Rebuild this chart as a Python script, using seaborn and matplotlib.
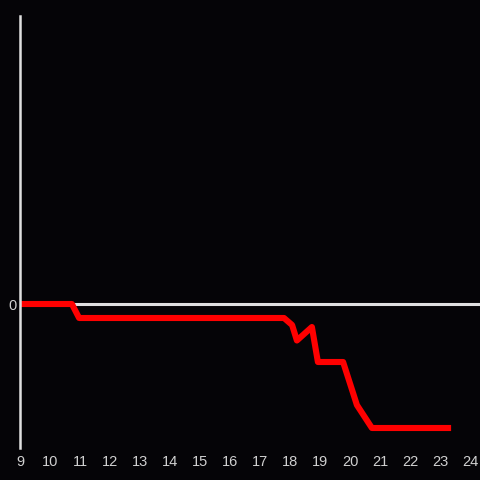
import numpy as np
import pandas as pd
import seaborn as sns
import matplotlib
matplotlib.use("Agg")
import matplotlib.pyplot as plt

# Hour of day and value
hours = [9.0, 10.73, 10.97, 17.8, 18.07, 18.23, 18.73, 18.93, 19.77, 20.07, 20.23, 20.73, 23.37]
values = [0, 0, -1.4, -1.4, -2.1, -3.65, -2.3, -5.8, -5.8, -8.6, -10.1, -12.4, -12.4]
xticks = list(range(9, 25))
yticks = [0]

bg = '#050407'
axis_col = '#e0e0e0'
text_col = '#d0d0d0'

sns.set_theme(style='dark')
plt.rcParams['font.family'] = ['Liberation Sans', 'DejaVu Sans']

df = pd.DataFrame({'hour': hours, 'value': values})

fig = plt.figure(figsize=(4.8, 4.8), dpi=100, facecolor=bg)
ax = fig.add_axes([20 / 480, 32 / 480, 460 / 480, 432 / 480])
ax.set_facecolor(bg)

ax.axhline(0, color=axis_col, lw=2.2, zorder=1)
sns.lineplot(data=df, x='hour', y='value', sort=False, color='#ff0000',
             lw=4.4, ax=ax, zorder=3, solid_capstyle='butt')

ax.set_xlim(9, 9 + 460 / 30)
ax.set_ylim(-14.4, 28.8)
ax.set_xticks(xticks)
ax.set_yticks(yticks)
ax.grid(False)
ax.set_xlabel('')
ax.set_ylabel('')

for s in ['top', 'right', 'bottom']:
    ax.spines[s].set_visible(False)
ax.spines['left'].set_color(axis_col)
ax.spines['left'].set_linewidth(1.8)
ax.spines['left'].set_zorder(4)

ax.tick_params(axis='x', length=0, pad=5, labelsize=10.5, colors=text_col)
ax.tick_params(axis='y', length=0, pad=2.5, labelsize=10.5, colors=text_col)

fig.savefig('out.png', dpi=100, facecolor=bg)
